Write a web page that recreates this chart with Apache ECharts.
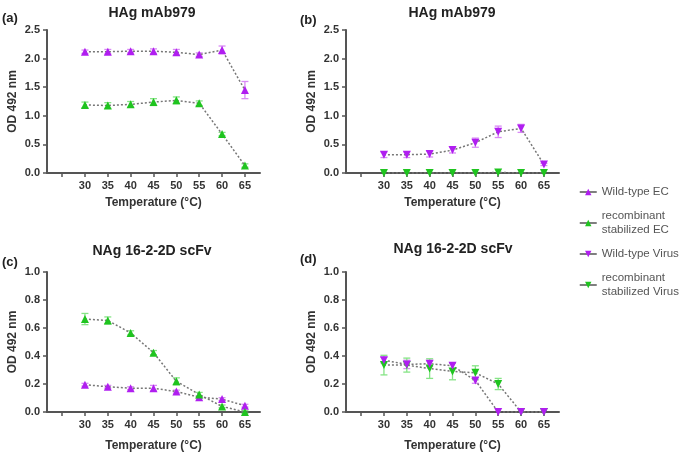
<!DOCTYPE html>
<html>
<head>
<meta charset="utf-8">
<script src="https://cdn.jsdelivr.net/npm/echarts@6/dist/echarts.min.js"></script>
<style>html,body{margin:0;padding:0;background:#fff}#c{width:684px;height:453px}</style>
</head>
<body>
<div id="c"></div>
<script>
const temps = [30, 35, 40, 45, 50, 55, 60, 65];
const xTicks = [25, 30, 35, 40, 45, 50, 55, 60, 65];
const xLabels = [30, 35, 40, 45, 50, 55, 60, 65];

// (a) HAg mAb979 - EC
const wtEC_HA = [2.12, 2.12, 2.13, 2.13, 2.11, 2.07, 2.15, 1.45];
const wtEC_HA_err = [0.03, 0.04, 0.03, 0.04, 0.05, 0.03, 0.07, 0.15];
const rsEC_HA = [1.19, 1.18, 1.20, 1.24, 1.27, 1.22, 0.68, 0.13];
const rsEC_HA_err = [0.05, 0.05, 0.05, 0.06, 0.06, 0.04, 0.03, 0.03];
// (b) HAg mAb979 - Virus
const wtV_HA = [0.32, 0.32, 0.33, 0.40, 0.53, 0.72, 0.78, 0.15];
const wtV_HA_err = [0.05, 0.05, 0.05, 0.05, 0.08, 0.10, 0.07, 0.02];
const rsV_HA = [0, 0, 0, 0, 0, 0.01, 0, 0];
const rsV_HA_err = [0, 0, 0, 0, 0, 0, 0, 0];
// (c) NAg 16-2-2D scFv - EC
const wtEC_NA = [0.195, 0.18, 0.17, 0.17, 0.146, 0.106, 0.092, 0.045];
const wtEC_NA_err = [0.01, 0.01, 0.01, 0.02, 0.01, 0.01, 0.01, 0.01];
const rsEC_NA = [0.664, 0.654, 0.565, 0.424, 0.219, 0.125, 0.04, 0.0];
const rsEC_NA_err = [0.04, 0.025, 0.015, 0.015, 0.025, 0.015, 0.01, 0.01];
// (d) NAg 16-2-2D scFv - Virus
const wtV_NA = [0.37, 0.34, 0.345, 0.33, 0.225, 0, 0, 0];
const wtV_NA_err = [0.02, 0.03, 0.02, 0.02, 0.02, 0, 0, 0];
const rsV_NA = [0.335, 0.335, 0.31, 0.29, 0.28, 0.20, 0, 0];
const rsV_NA_err = [0.07, 0.05, 0.07, 0.06, 0.05, 0.04, 0, 0];

const names = ['Wild-type EC', 'recombinant\nstabilized EC', 'Wild-type Virus', 'recombinant\nstabilized Virus'];
const titles = ['HAg mAb979', 'HAg mAb979', 'NAg 16-2-2D scFv', 'NAg 16-2-2D scFv'];
const panelTags = ['(a)', '(b)', '(c)', '(d)'];

const PURPLE = '#b01ef0', PURPLE_E = '#d98af5';
const GREEN = '#1fc41f', GREEN_E = '#86e486';
const FONT = 'Liberation Sans, Arial, sans-serif';

const grids = [
  {left: 47, top: 30, width: 213, height: 143},
  {left: 346, top: 30, width: 213, height: 143},
  {left: 47, top: 272, width: 213, height: 141},
  {left: 346, top: 272, width: 213, height: 141}
];

function xAxisFor(i, gap) {
  return {
    type: 'value', gridIndex: i, min: 21.7, max: 68.3,
    name: 'Temperature (°C)', nameLocation: 'middle', nameGap: gap,
    nameTextStyle: {fontFamily: FONT, fontWeight: 'bold', fontSize: 12, color: '#333'},
    axisLine: {show: true, onZero: false, lineStyle: {color: '#555', width: 2}},
    axisTick: {show: true, length: 4, customValues: xTicks, lineStyle: {color: '#555', width: 1.5}},
    axisLabel: {customValues: xLabels, fontFamily: FONT, fontWeight: 'bold', fontSize: 11, color: '#333', margin: 7},
    splitLine: {show: false}
  };
}
function yAxisFor(i, max, interval) {
  return {
    type: 'value', gridIndex: i, min: 0, max: max, interval: interval,
    name: 'OD 492 nm', nameLocation: 'middle', nameGap: 28, nameRotate: 90,
    nameTextStyle: {fontFamily: FONT, fontWeight: 'bold', fontSize: 12, color: '#333'},
    axisLine: {show: true, onZero: false, lineStyle: {color: '#555', width: 2}},
    axisTick: {show: true, length: 4, lineStyle: {color: '#555', width: 1.5}},
    axisLabel: {formatter: v => v.toFixed(1), fontFamily: FONT, fontWeight: 'bold', fontSize: 11, color: '#333', margin: 7},
    splitLine: {show: false}
  };
}

function lineSeries(name, vals, idx, color, down) {
  return {
    type: 'line', name: name, xAxisIndex: idx, yAxisIndex: idx, z: 3,
    data: temps.map((t, k) => [t, vals[k]]),
    symbol: 'triangle', symbolSize: 8, symbolRotate: down ? 180 : 0,
    itemStyle: {color: color},
    lineStyle: {color: '#777', width: 1.5, type: [2, 2]},
    emphasis: {disabled: true}
  };
}
function errSeries(vals, errs, idx, color) {
  return {
    type: 'custom', name: 'err', xAxisIndex: idx, yAxisIndex: idx, z: 2, silent: true,
    data: temps.map((t, k) => [t, vals[k], errs[k]]),
    renderItem: function (params, api) {
      const x = api.value(0), y = api.value(1), e = api.value(2);
      if (!e) return null;
      const top = api.coord([x, y + e]);
      const bot = api.coord([x, y - e]);
      const w = 3.5;
      const st = {stroke: color, lineWidth: 1.3};
      return {type: 'group', children: [
        {type: 'line', shape: {x1: top[0], y1: top[1], x2: bot[0], y2: bot[1]}, style: st},
        {type: 'line', shape: {x1: top[0] - w, y1: top[1], x2: top[0] + w, y2: top[1]}, style: st},
        {type: 'line', shape: {x1: bot[0] - w, y1: bot[1], x2: bot[0] + w, y2: bot[1]}, style: st}
      ]};
    }
  };
}

const series = [
  errSeries(wtEC_HA, wtEC_HA_err, 0, PURPLE_E), errSeries(rsEC_HA, rsEC_HA_err, 0, GREEN_E),
  lineSeries(names[0], wtEC_HA, 0, PURPLE, false), lineSeries(names[1], rsEC_HA, 0, GREEN, false),
  errSeries(wtV_HA, wtV_HA_err, 1, PURPLE_E), errSeries(rsV_HA, rsV_HA_err, 1, GREEN_E),
  lineSeries(names[3], rsV_HA, 1, GREEN, true), lineSeries(names[2], wtV_HA, 1, PURPLE, true),
  errSeries(wtEC_NA, wtEC_NA_err, 2, PURPLE_E), errSeries(rsEC_NA, rsEC_NA_err, 2, GREEN_E),
  lineSeries(names[0], wtEC_NA, 2, PURPLE, false), lineSeries(names[1], rsEC_NA, 2, GREEN, false),
  errSeries(wtV_NA, wtV_NA_err, 3, PURPLE_E), errSeries(rsV_NA, rsV_NA_err, 3, GREEN_E),
  lineSeries(names[3], rsV_NA, 3, GREEN, true), lineSeries(names[2], wtV_NA, 3, PURPLE, true)
];

const titlePos = [[152, 13], [452, 13], [152, 251], [453, 249]];
const tagPos = [[2, 18], [300, 20], [2, 262], [300, 259]];
const graphic = [];
titles.forEach((t, i) => graphic.push({
  type: 'text', x: titlePos[i][0], y: titlePos[i][1],
  style: {text: t, fontFamily: FONT, fontWeight: 'bold', fontSize: 14, fill: '#222', textAlign: 'center', textVerticalAlign: 'middle'}
}));
panelTags.forEach((t, i) => graphic.push({
  type: 'text', x: tagPos[i][0], y: tagPos[i][1],
  style: {text: t, fontFamily: FONT, fontWeight: 'bold', fontSize: 13, fill: '#222', textAlign: 'left', textVerticalAlign: 'middle'}
}));

const option = {
  animation: false,
  backgroundColor: '#fff',
  grid: grids,
  xAxis: [xAxisFor(0, 24), xAxisFor(1, 24), xAxisFor(2, 28), xAxisFor(3, 28)],
  yAxis: [yAxisFor(0, 2.5, 0.5), yAxisFor(1, 2.5, 0.5), yAxisFor(2, 1.0, 0.2), yAxisFor(3, 1.0, 0.2)],
  legend: {
    data: names, orient: 'vertical', left: 579, top: 185, itemGap: 10,
    itemWidth: 17, itemHeight: 8, padding: 0,
    lineStyle: {color: '#555', type: 'solid', width: 1.5},
    textStyle: {fontFamily: FONT, fontSize: 11.5, lineHeight: 14, color: '#555'}
  },
  graphic: graphic,
  series: series
};
echarts.init(document.getElementById('c')).setOption(option);
</script>
</body>
</html>
